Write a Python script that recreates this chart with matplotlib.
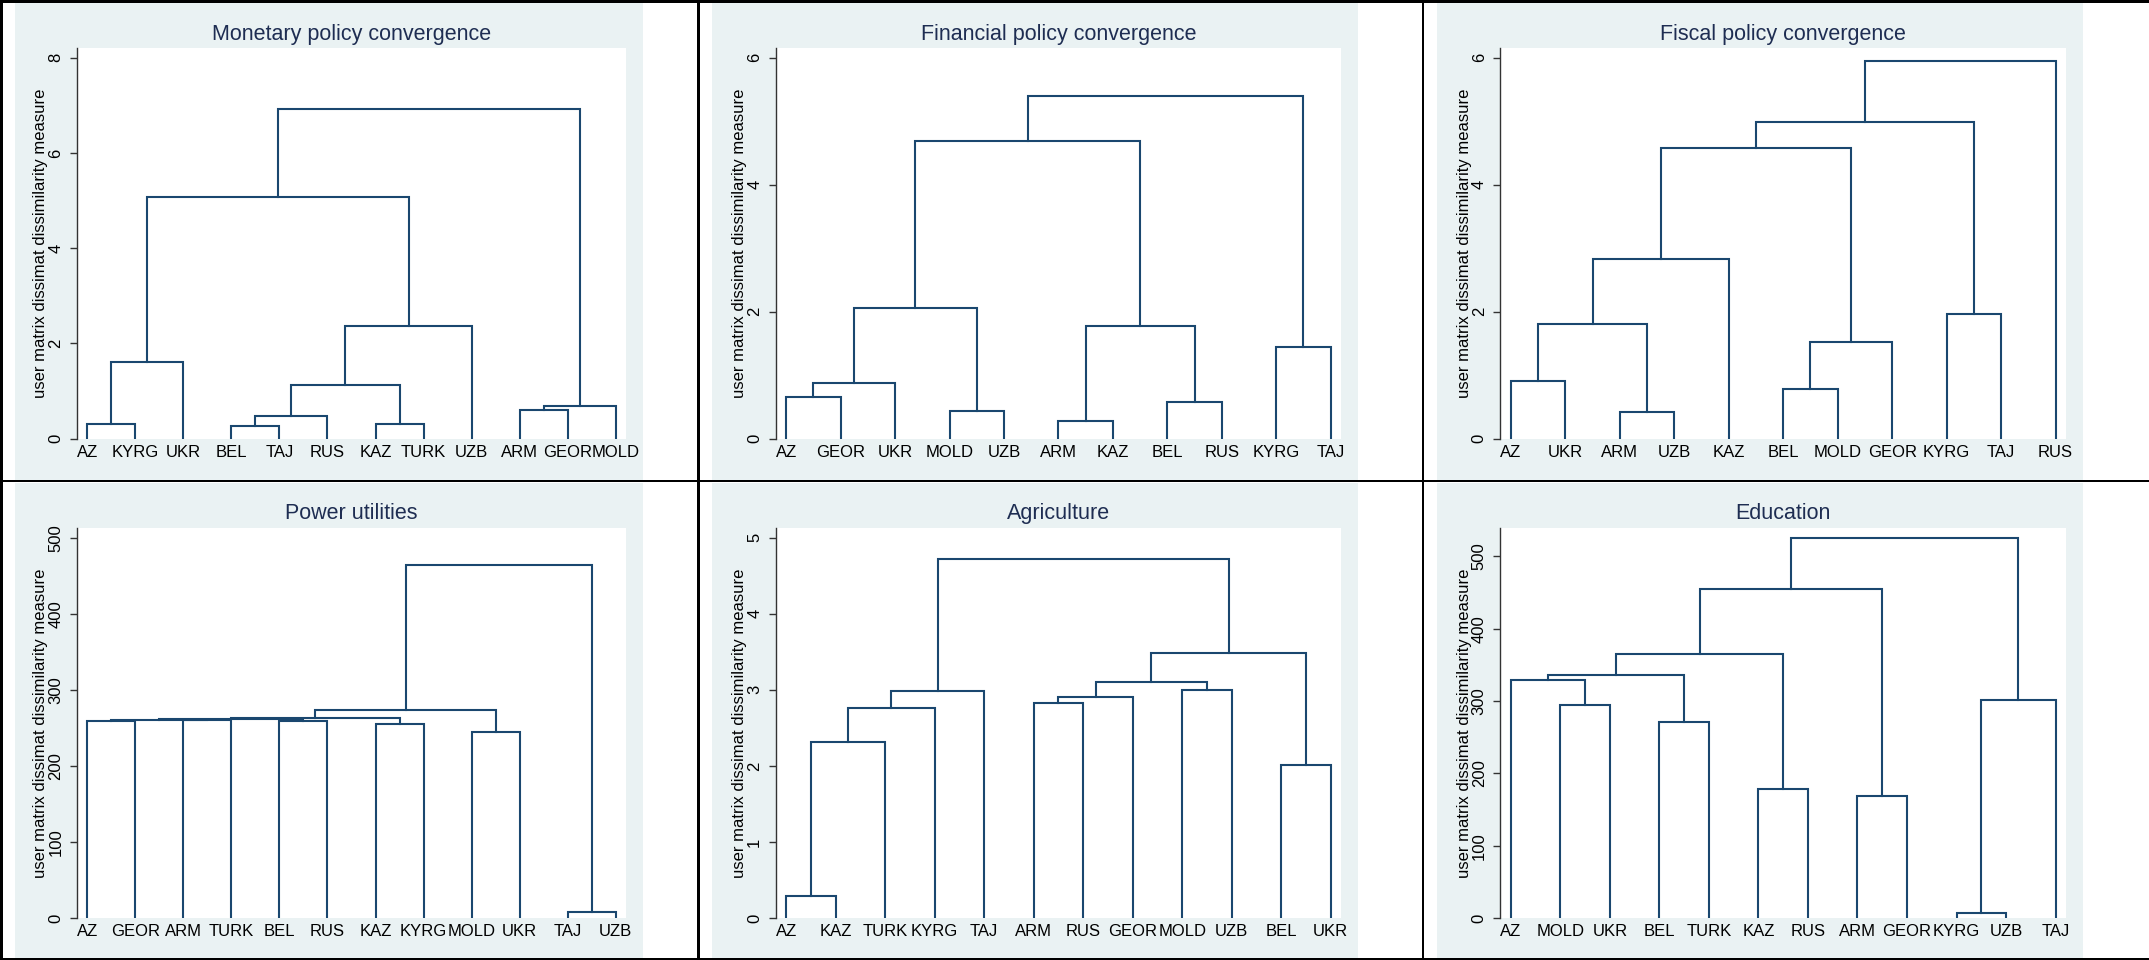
import matplotlib.pyplot as plt
from matplotlib.patches import Rectangle

plt.rcParams['font.family'] = ['Liberation Sans', 'DejaVu Sans']

# ---- data: leaf order and merges (child, child, height); ints refer to earlier merges
monetary_leaves = ["AZ", "KYRG", "UKR", "BEL", "TAJ", "RUS", "KAZ", "TURK", "UZB", "ARM", "GEOR", "MOLD"]
monetary_merges = [("AZ", "KYRG", 0.30), (0, "UKR", 1.61), ("BEL", "TAJ", 0.27), (2, "RUS", 0.48),
                   ("KAZ", "TURK", 0.31), (3, 4, 1.13), (5, "UZB", 2.37), (1, 6, 5.08),
                   ("ARM", "GEOR", 0.61), (8, "MOLD", 0.69), (7, 9, 6.93)]
monetary_ticks = [0, 2, 4, 6, 8]

financial_leaves = ["AZ", "GEOR", "UKR", "MOLD", "UZB", "ARM", "KAZ", "BEL", "RUS", "KYRG", "TAJ"]
financial_merges = [("AZ", "GEOR", 0.65), (0, "UKR", 0.88), ("MOLD", "UZB", 0.44), (1, 2, 2.05),
                    ("ARM", "KAZ", 0.28), ("BEL", "RUS", 0.57), (4, 5, 1.77), (3, 6, 4.69),
                    ("KYRG", "TAJ", 1.44), (7, 8, 5.39)]
financial_ticks = [0, 2, 4, 6]

fiscal_leaves = ["AZ", "UKR", "ARM", "UZB", "KAZ", "BEL", "MOLD", "GEOR", "KYRG", "TAJ", "RUS"]
fiscal_merges = [("AZ", "UKR", 0.90), ("ARM", "UZB", 0.42), (0, 1, 1.81), (2, "KAZ", 2.83),
                 ("BEL", "MOLD", 0.78), (4, "GEOR", 1.52), (3, 5, 4.57), ("KYRG", "TAJ", 1.96),
                 (6, 7, 4.99), (8, "RUS", 5.95)]
fiscal_ticks = [0, 2, 4, 6]

power_leaves = ["AZ", "GEOR", "ARM", "TURK", "BEL", "RUS", "KAZ", "KYRG", "MOLD", "UKR", "TAJ", "UZB"]
power_merges = [("AZ", "GEOR", 258.8), ("ARM", "TURK", 260.0), (0, 1, 260.6), ("BEL", "RUS", 258.7),
                (2, 3, 261.8), ("KAZ", "KYRG", 255.3), (4, 5, 263.2), ("MOLD", "UKR", 244.3),
                (6, 7, 273.2), ("TAJ", "UZB", 7.9), (8, 9, 463.7)]
power_ticks = [0, 100, 200, 300, 400, 500]

agri_leaves = ["AZ", "KAZ", "TURK", "KYRG", "TAJ", "ARM", "RUS", "GEOR", "MOLD", "UZB", "BEL", "UKR"]
agri_merges = [("AZ", "KAZ", 0.29), (0, "TURK", 2.32), (1, "KYRG", 2.76), (2, "TAJ", 2.98),
               ("ARM", "RUS", 2.83), (4, "GEOR", 2.91), ("MOLD", "UZB", 3.00), (5, 6, 3.10),
               ("BEL", "UKR", 2.01), (7, 8, 3.48), (3, 9, 4.72)]
agri_ticks = [0, 1, 2, 3, 4, 5]

edu_leaves = ["AZ", "MOLD", "UKR", "BEL", "TURK", "KAZ", "RUS", "ARM", "GEOR", "KYRG", "UZB", "TAJ"]
edu_merges = [("MOLD", "UKR", 294.5), ("AZ", 0, 329.0), ("BEL", "TURK", 271.0), (1, 2, 336.0),
              ("KAZ", "RUS", 179.0), (3, 4, 365.0), ("ARM", "GEOR", 169.0), (5, 6, 455.0),
              ("KYRG", "UZB", 6.9), (8, "TAJ", 301.4), (7, 9, 526.0)]
edu_ticks = [0, 100, 200, 300, 400, 500]

titles = ["Monetary policy convergence", "Financial policy convergence", "Fiscal policy convergence",
          "Power utilities", "Agriculture", "Education"]
ytitle = "user matrix dissimat dissimilarity measure"

panels = [
    (monetary_leaves, monetary_merges, monetary_ticks),
    (financial_leaves, financial_merges, financial_ticks),
    (fiscal_leaves, fiscal_merges, fiscal_ticks),
    (power_leaves, power_merges, power_ticks),
    (agri_leaves, agri_merges, agri_ticks),
    (edu_leaves, edu_merges, edu_ticks),
]

W, H = 2149, 960
fig = plt.figure(figsize=(W / 100, H / 100), dpi=100)
fig.patch.set_facecolor("white")

bg_color = "#eaf2f3"
line_color = "#1a476f"
title_color = "#1e2d52"


def rect(x0, y0, x1, y1, color, z=0):
    fig.add_artist(Rectangle((x0 / W, 1 - y1 / H), (x1 - x0) / W, (y1 - y0) / H,
                             transform=fig.transFigure, facecolor=color,
                             edgecolor="none", zorder=z))


# column / row geometry in pixels
bg_cols = [(15, 643), (711.5, 1357.5), (1437, 2082.7)]
bg_rows = [(2.7, 480), (482.5, 957.5)]
ax_cols = [(77, 626), (775.8, 1341), (1500.4, 2066)]
ax_rows = [(47.7, 438.6), (527.7, 918)]
title_base = [40, 519]

for c in range(3):
    for r in range(2):
        rect(bg_cols[c][0], bg_rows[r][0], bg_cols[c][1], bg_rows[r][1], bg_color)


def dendro_segments(leaves, merges):
    pos = {name: (i, 0.0) for i, name in enumerate(leaves)}
    nodes = []
    segs = []
    for a, b, h in merges:
        xa, ha = pos[a] if isinstance(a, str) else nodes[a]
        xb, hb = pos[b] if isinstance(b, str) else nodes[b]
        segs.append(([xa, xa, xb, xb], [ha, h, h, hb]))
        nodes.append(((xa + xb) / 2, h))
    return segs


for k, (leaves, merges, ticks) in enumerate(panels):
    r, c = divmod(k, 3)
    x0, x1 = ax_cols[c]
    y0, y1 = ax_rows[r]
    ax = fig.add_axes([x0 / W, 1 - y1 / H, (x1 - x0) / W, (y1 - y0) / H])
    ax.set_facecolor("white")

    for xs, ys in dendro_segments(leaves, merges):
        ax.plot(xs, ys, color=line_color, lw=1.5, solid_joinstyle="miter")

    n = len(leaves)
    wpx = x1 - x0
    hpx = y1 - y0
    spacing = (wpx - 20.8) / (n - 1)
    m = 10.4 / spacing
    ax.set_xlim(-m, n - 1 + m)
    top = max(ticks[-1], max(h for _, _, h in merges))
    ax.set_ylim(0, top * hpx / (hpx - 10))

    ax.set_xticks(range(n))
    ax.set_xticklabels(leaves)
    ax.set_yticks(ticks)
    ax.set_yticklabels([str(t) for t in ticks], rotation=90, va="center", ha="right")
    ax.tick_params(axis="x", length=0, pad=4.5, labelsize=12)
    ax.tick_params(axis="y", direction="out", length=4.8, width=1, color="#333333",
                   pad=5, labelsize=12)
    for s in ["top", "right", "bottom"]:
        ax.spines[s].set_visible(False)
    ax.spines["left"].set_color("#333333")
    ax.spines["left"].set_linewidth(1)

    fig.text((x0 + x1) / 2 / W, 1 - title_base[r] / H, titles[k], ha="center",
             va="baseline", fontsize=15.5, color=title_color)
    fig.text((x0 - 36) / W, 1 - (y0 + y1) / 2 / H, ytitle, rotation=90,
             ha="center", va="center", fontsize=12, color="black")

# black frame lines between cells
rect(0, 0, W, 2.7, "black", 5)
rect(0, 0, 2.7, H, "black", 5)
rect(0, 957.5, W, H, "black", 5)
rect(0, 479.8, W, 482.3, "black", 5)
rect(697, 0, 699.5, H, "black", 5)
rect(1421.8, 0, 1424.3, H, "black", 5)

fig.savefig("out.png", dpi=100)
